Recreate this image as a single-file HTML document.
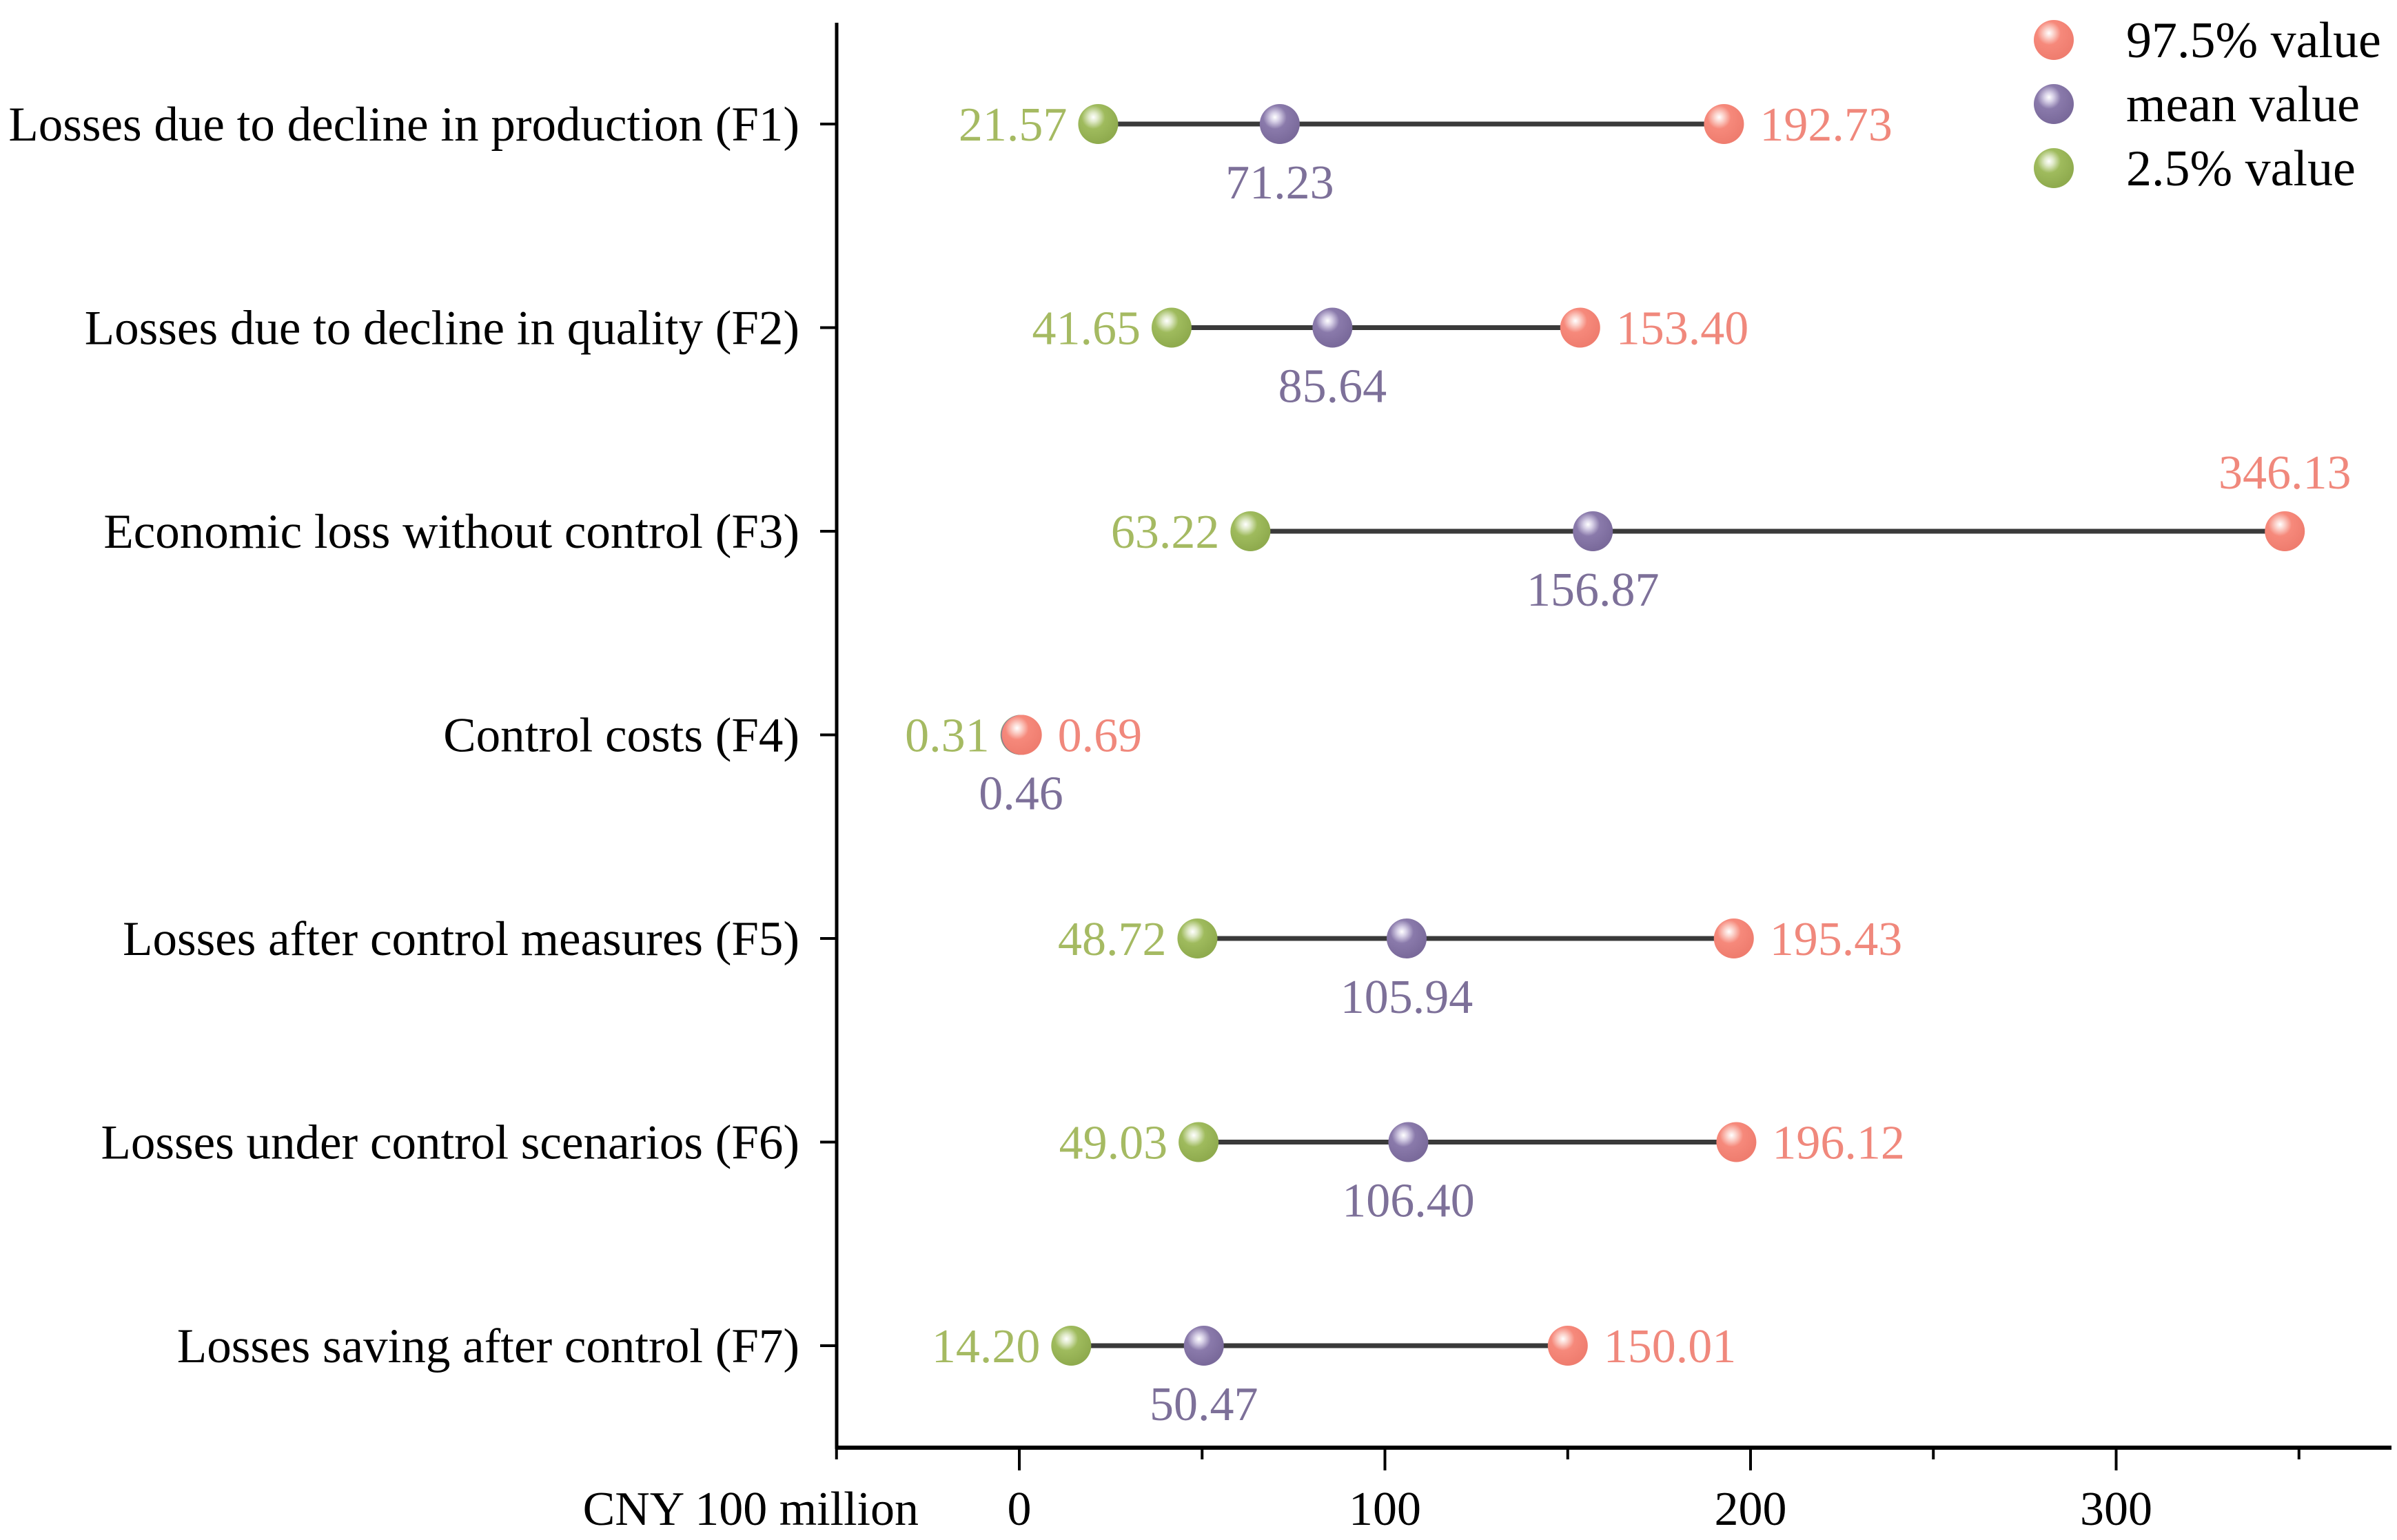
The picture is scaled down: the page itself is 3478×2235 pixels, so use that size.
<!DOCTYPE html>
<html><head><meta charset="utf-8"><style>
html,body{margin:0;padding:0;background:#fff}
svg{display:block}
text{font-family:"Liberation Serif",serif}
</style></head><body>
<svg id="chart" width="3478" height="2235" viewBox="0 0 3478 2235" xmlns="http://www.w3.org/2000/svg">
<defs>
<radialGradient id="gs" cx="0.38" cy="0.33" r="0.65"><stop offset="0" stop-color="#fff"/><stop offset="0.18" stop-color="#dfe9c8"/><stop offset="0.45" stop-color="#9fbb5d"/><stop offset="1" stop-color="#8fab4e"/></radialGradient>
<radialGradient id="ms" cx="0.38" cy="0.33" r="0.65"><stop offset="0" stop-color="#fff"/><stop offset="0.18" stop-color="#d6cfe6"/><stop offset="0.45" stop-color="#8a7aab"/><stop offset="1" stop-color="#7a6a9b"/></radialGradient>
<radialGradient id="hs" cx="0.38" cy="0.33" r="0.65"><stop offset="0" stop-color="#fff"/><stop offset="0.18" stop-color="#fbd3cc"/><stop offset="0.45" stop-color="#f6897b"/><stop offset="1" stop-color="#ef7d6f"/></radialGradient>
</defs>
<g id="plot"></g>
</svg>
<script>
const categories=["Losses due to decline in production (F1)","Losses due to decline in quality (F2)","Economic loss without control (F3)","Control costs (F4)","Losses after control measures (F5)","Losses under control scenarios (F6)","Losses saving after control (F7)"];
const lowValues=[21.57,41.65,63.22,0.31,48.72,49.03,14.20];
const meanValues=[71.23,85.64,156.87,0.46,105.94,106.40,50.47];
const highValues=[192.73,153.40,346.13,0.69,195.43,196.12,150.01];
const majorTicks=[0,100,200,300];
const minorTicks=[-50,50,150,250,350];
const NS="http://www.w3.org/2000/svg";
const g=document.getElementById('plot');
const X0=1479,PX=5.305;
function xs(v){return X0+v*PX;}
function ys(i){return 180+i*295.5;}
function mk(tag,attrs,parent){const e=document.createElementNS(NS,tag);for(const k in attrs)e.setAttribute(k,attrs[k]);(parent||g).appendChild(e);return e;}
function txt(s,x,y,anchor,fill,size){const t=mk('text',{x:x,y:y,'text-anchor':anchor,fill:fill,'font-size':size});t.textContent=s;return t;}
let a=mk('line',{x1:1214,y1:33,x2:1214,y2:2103,stroke:'#000','stroke-width':5});


a=mk('line',{x1:1212,y1:2101,x2:3470,y2:2101,stroke:'#000','stroke-width':6});


majorTicks.forEach(v=>{
 const l=mk('line',{x1:xs(v),y1:2101,x2:xs(v),y2:2134,stroke:'#000','stroke-width':4});
 
 
 const t=txt(String(v),xs(v),2213,'middle','#000',70);
 
 
});
minorTicks.forEach(v=>{
 const l=mk('line',{x1:xs(v),y1:2101,x2:xs(v),y2:2118,stroke:'#000','stroke-width':4});
 
 
});
let xt=txt('CNY 100 million',1333,2213,'end','#000',70);


categories.forEach((c,i)=>{
 const y=ys(i);
 const tk=mk('line',{x1:1190,y1:y,x2:1214,y2:y,stroke:'#000','stroke-width':4});
 
 
 const lab=txt(c,1160,y+24,'end','#000',71);
 
 
 const ln=mk('line',{x1:xs(lowValues[i]),y1:y,x2:xs(highValues[i]),y2:y,stroke:'#3a3a3a','stroke-width':7});
 
 
 const d1=mk('circle',{cx:xs(lowValues[i]),cy:y,r:29,fill:'url(#gs)'});
 
 
 const d2=mk('circle',{cx:xs(meanValues[i]),cy:y,r:29,fill:'url(#ms)'});
 
 
 const d3=mk('circle',{cx:xs(highValues[i]),cy:y,r:29,fill:'url(#hs)'});
 
 
 const l1=txt(lowValues[i].toFixed(2),xs(lowValues[i])-45,y+24,'end','#a5ba62',70);
 
 
 const l2=txt(meanValues[i].toFixed(2),xs(meanValues[i]),y+108,'middle','#7d7099',70);
 
 
 const big=i===2;
 const l3=txt(highValues[i].toFixed(2),big?xs(highValues[i]):xs(highValues[i])+52,big?y-62:y+24,big?'middle':'start','#f0887c',70);
 
 
});
const leg=[['97.5% value','url(#hs)'],['mean value','url(#ms)'],['2.5% value','url(#gs)']];
leg.forEach((e,k)=>{
 const y=58+k*93;
 const c=mk('circle',{cx:2980,cy:y,r:29,fill:e[1]});
 
 
 const t=txt(e[0],3085,y+25,'start','#000',74);
 
 
});
</script>
</body></html>
